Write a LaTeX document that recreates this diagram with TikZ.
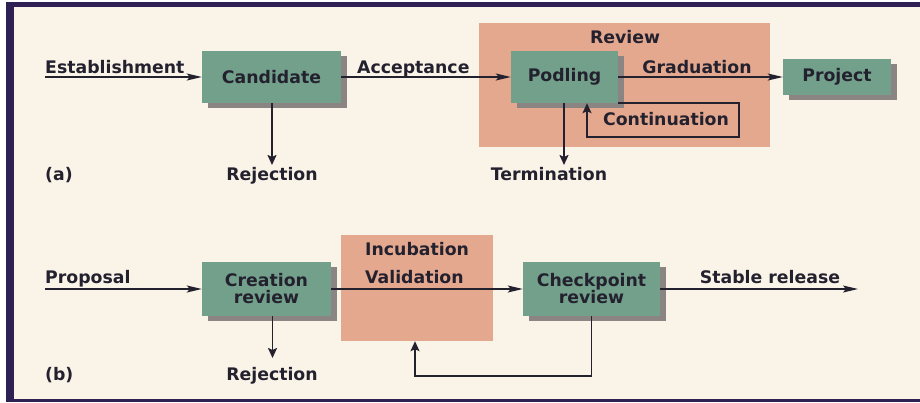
\documentclass[tikz,border=0pt]{standalone}
\usepackage{fontspec}
\setmainfont{DejaVu Sans}
\usetikzlibrary{arrows.meta,shadows}
\definecolor{bg}{HTML}{F9F3E8}
\definecolor{framec}{HTML}{2E2052}
\definecolor{tealbox}{HTML}{72A08B}
\definecolor{salmon}{HTML}{E4A88F}
\definecolor{shade}{HTML}{8A8482}
\definecolor{ink}{HTML}{24212F}
\begin{document}
\begin{tikzpicture}[x=1pt,y=-1pt,
  every node/.style={font=\fontsize{17.3pt}{17pt}\selectfont\bfseries, text=ink},
  box/.style={fill=tealbox, inner sep=0pt, align=center,
    drop shadow={shadow xshift=6pt, shadow yshift=-5pt, fill=shade, opacity=1}},
  region/.style={fill=salmon, inner sep=0pt},
  lbl/.style={anchor=base, inner sep=0pt},
  conn/.style={draw=ink, line width=1.4pt},
  harr/.style={conn, -{Stealth[length=15pt,width=7pt,inset=3pt]}},
  varr/.style={conn, line width=1.8pt, -{Stealth[length=10pt,width=9pt,inset=2pt]}},
]
\useasboundingbox (0,0) rectangle (920,402);
\fill[white] (0,0) rectangle (920,402);
\fill[bg] (14,7) rectangle (920,399);
\fill[framec] (6,2) rectangle (14,402);
\fill[framec] (6,2) rectangle (920,7);
\fill[framec] (6,399) rectangle (920,402);

% regions
\node[region, minimum width=291pt, minimum height=124pt] (review) at (624.5,85) {};
\node[region, minimum width=152pt, minimum height=106pt] (incub) at (417,288) {};

% boxes
\node[box, minimum width=139pt, minimum height=52pt] (cand) at (271.5,77) {Candidate};
\node[box, minimum width=107pt, minimum height=52pt] (pod) at (564.5,77) {Podling};
\node[box, minimum width=108pt, minimum height=36pt] (proj) at (837,77) {Project};
\node[box, minimum width=129pt, minimum height=54pt] (crea) at (266.5,289) {Creation\\review};
\node[box, minimum width=137pt, minimum height=54pt] (chk) at (591.5,289) {Checkpoint\\review};

% labels (a)
\node[lbl, anchor=base west] (estl) at (45,73) {Establishment};
\node[lbl, anchor=base west] (accl) at (357,73) {Acceptance};
\node[lbl] (revl) at (625,43) {Review};
\node[lbl] (gradl) at (697,73) {Graduation};
\node[lbl] (contl) at (666,125) {Continuation};
\node[lbl] (terml) at (549,180) {Termination};
\node[lbl] (rejal) at (272,180) {Rejection};
\node[lbl, anchor=base west] (al) at (45,180) {(a)};

% labels (b)
\node[lbl, anchor=base west] (propl) at (45,283) {Proposal};
\node[lbl, anchor=base west] (incl) at (365,255) {Incubation};
\node[lbl, anchor=base west] (vall) at (365,283) {Validation};
\node[lbl] (stabl) at (770,283) {Stable release};
\node[lbl] (rejbl) at (272,380) {Rejection};
\node[lbl, anchor=base west] (bl) at (45,380) {(b)};

% coordinates
\coordinate (estS) at (45,77);
\coordinate (rejA) at (272,165);
\coordinate (termE) at (564,165);
\coordinate (c1) at (739,137);
\coordinate (propS) at (45,289);
\coordinate (stabE) at (858,289);
\coordinate (rejB) at (272.5,358);
\coordinate (lp) at (415,376);

% connectors (a)
\draw[harr] (estS) -- (cand.west);
\draw[harr] (cand.east) -- (pod.west);
\draw[harr] (pod.east) -- (proj.west);
\draw[varr] (cand.south -| rejA) -- (rejA);
\draw[varr] (pod.south -| termE) -- (termE);
\draw[varr, line width=1.5pt] (pod.south east) -| (c1) -| ([xshift=22.5pt]pod.south);

% connectors (b)
\draw[harr] (propS) -- (crea.west);
\draw[harr] (crea.east) -- (chk.west);
\draw[harr] (chk.east) -- (stabE);
\draw[varr] (crea.south -| rejB) -- (rejB);
\draw[varr, line width=1.5pt] (chk.south) |- (lp) -- (lp |- incub.south);
\end{tikzpicture}
\end{document}
